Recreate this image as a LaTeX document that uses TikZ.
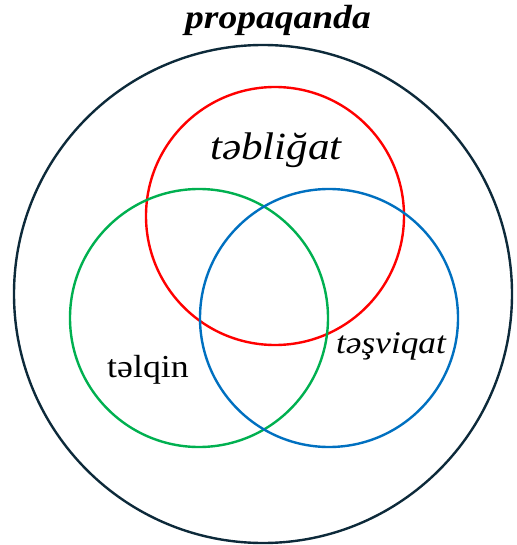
\documentclass[tikz,border=0pt]{standalone}
\usepackage{fontspec}
\setmainfont{Liberation Serif}[FakeStretch=1.12]
\definecolor{outerc}{HTML}{0D2A3A}
\definecolor{redc}{HTML}{FF0000}
\definecolor{greenc}{HTML}{00B050}
\definecolor{bluec}{HTML}{0070C0}
\begin{document}
\begin{tikzpicture}[x=1pt,y=-1pt,
  ring/.style={line width=2.4pt},
  lbl/.style={inner sep=0pt, text=black}]
\useasboundingbox (0,0) rectangle (516,545);
\node[ring, draw=outerc, circle, minimum size=498pt, inner sep=0pt] (outer) at (263,294) {};
\node[ring, draw=redc, circle, minimum size=258pt, inner sep=0pt] (red) at (275,216) {};
\node[ring, draw=greenc, circle, minimum size=258pt, inner sep=0pt] (green) at (199,318) {};
\node[ring, draw=bluec, circle, minimum size=258pt, inner sep=0pt] (blue) at (329,318) {};
\node[lbl, font=\fontsize{33.5}{36}\selectfont\bfseries\itshape] (prop) at (278,20) {propaqanda};
\node[lbl, font=\fontsize{38.5}{42}\selectfont\itshape] (tab) at (276,150) {təbliğat};
\node[lbl, font=\fontsize{32}{36}\selectfont] (tal) at (148,370) {təlqin};
\node[lbl, font=\fontsize{31.5}{35}\selectfont\itshape] (tas) at (391,346) {təşviqat};
\end{tikzpicture}
\end{document}
